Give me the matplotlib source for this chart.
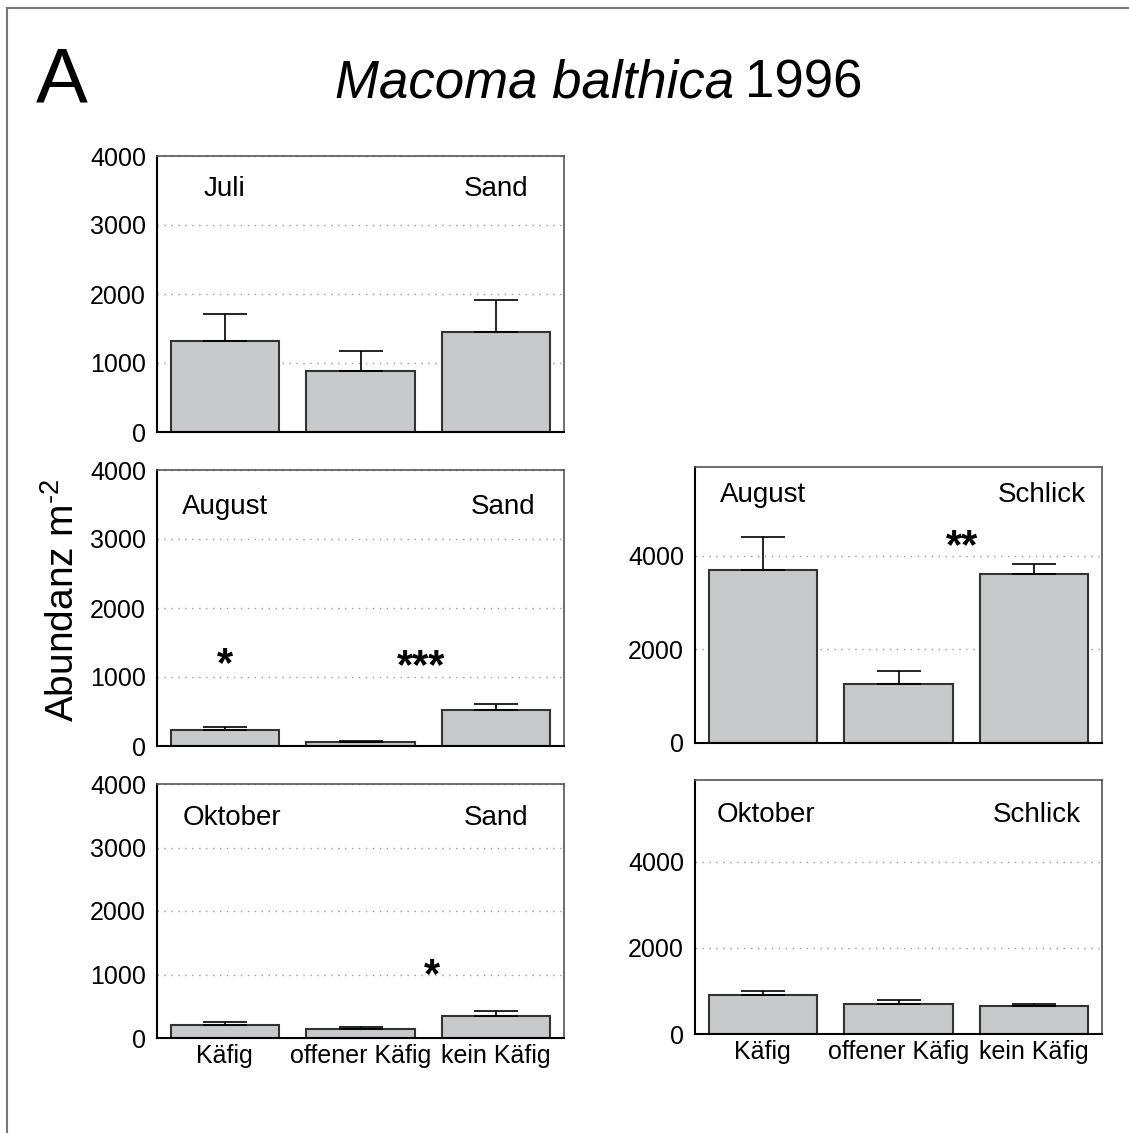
import numpy as np
import matplotlib
matplotlib.use('Agg')
import matplotlib.pyplot as plt
from matplotlib.lines import Line2D

plt.rcParams['font.family'] = ['Liberation Sans', 'DejaVu Sans']
plt.rcParams['mathtext.fontset'] = 'custom'
plt.rcParams['mathtext.rm'] = 'Liberation Sans'

# treatment categories (x axis)
categories = ['Käfig', 'offener Käfig', 'kein Käfig']

# mean abundance per m^2 and standard error
juli_sand = [1316, 882, 1455]
juli_sand_se = [399, 289, 463]
aug_sand = [227, 54, 517]
aug_sand_se = [44, 14, 96]
okt_sand = [205, 146, 342]
okt_sand_se = [42, 32, 83]
aug_schlick = [3701, 1268, 3607]
aug_schlick_se = [705, 269, 229]
okt_schlick = [904, 686, 640]
okt_schlick_se = [99, 102, 55]

W, H = 1129, 1133
fig = plt.figure(figsize=(W / 100, H / 100), dpi=100)

BAR = '#c8c9cb'
EDGE = '#333333'


def px_axes(x0, y0, x1, y1):
    # pixel box (top-left origin) -> figure fraction axes
    return fig.add_axes([x0 / W, 1 - y1 / H, (x1 - x0) / W, (y1 - y0) / H])


def panel(ax, vals, se, month, habitat, ymax, ticks, lab_y, hab_x=2.0,
          mon_x=0.0, xlabels=False):
    x = np.arange(len(vals))
    ax.set_xlim(-0.5, 2.5)
    ax.set_ylim(0, ymax)
    for t in ticks[1:]:
        ax.axhline(t, color='#999999', lw=1, ls=(0, (1, 4)), zorder=0)
    ax.bar(x, vals, width=0.8, color=BAR, edgecolor=EDGE, lw=1.5, zorder=2)
    ax.errorbar(x, vals, yerr=[np.zeros(len(se)), se], fmt='none',
                ecolor='black', elinewidth=1.2, capsize=16, capthick=1.2,
                zorder=3)
    ax.set_yticks(ticks)
    ax.set_yticklabels([str(t) for t in ticks], fontsize=18)
    ax.tick_params(axis='both', length=0, pad=8)
    ax.set_xticks(x)
    if xlabels:
        ax.set_xticklabels(categories, fontsize=18)
        ax.tick_params(axis='x', pad=4)
    else:
        ax.set_xticklabels([])
    for s in ['left', 'bottom']:
        ax.spines[s].set_color('black')
        ax.spines[s].set_linewidth(1.5)
    for s in ['top', 'right']:
        ax.spines[s].set_color('#555555')
        ax.spines[s].set_linewidth(1.2)
    tr = ax.get_xaxis_transform()
    ax.text(mon_x, lab_y, month, transform=tr, ha='center', va='center',
            fontsize=20)
    ax.text(hab_x, lab_y, habitat, transform=tr, ha='center', va='center',
            fontsize=20)


def star(ax, x, y, s):
    ax.text(x, y, s, ha='center', va='center', fontsize=30, fontweight='bold')


sand_ticks = [0, 1000, 2000, 3000, 4000]
schlick_ticks = [0, 2000, 4000]

ax1 = px_axes(157, 156, 564, 432)
panel(ax1, juli_sand, juli_sand_se, 'Juli', 'Sand', 4000, sand_ticks, 0.88)

ax2 = px_axes(157, 470, 564, 746)
panel(ax2, aug_sand, aug_sand_se, 'August', 'Sand', 4000, sand_ticks, 0.867,
      hab_x=2.05)
star(ax2, 0, 1170, '*')
star(ax2, 1.45, 1140, '***')

ax3 = px_axes(157, 784, 564, 1038)
panel(ax3, okt_sand, okt_sand_se, 'Oktober', 'Sand', 4000, sand_ticks, 0.866,
      mon_x=0.05, xlabels=True)
star(ax3, 1.53, 970, '*')

ax4 = px_axes(695, 467, 1102, 743)
panel(ax4, aug_schlick, aug_schlick_se, 'August', 'Schlick', 5900,
      schlick_ticks, 0.899, hab_x=2.06)
star(ax4, 1.47, 4190, '**')

ax5 = px_axes(695, 780, 1102, 1034)
panel(ax5, okt_schlick, okt_schlick_se, 'Oktober', 'Schlick', 5900,
      schlick_ticks, 0.862, hab_x=2.02, mon_x=0.02, xlabels=True)

# headings
fig.text(62 / W, 1 - 103 / H, 'A', fontsize=56, ha='center', va='baseline')
fig.text(734 / W, 1 - 97 / H, 'Macoma balthica', fontsize=38, style='italic',
         ha='right', va='baseline')
fig.text(745 / W, 1 - 97 / H, '1996', fontsize=38, ha='left', va='baseline')
fig.text(63 / W, 1 - 600 / H, 'Abundanz m$^{\\text{-2}}$', fontsize=28,
         rotation=90, ha='center', va='center')

# outer frame (only left and top edges visible)
fig.add_artist(Line2D([7 / W, 7 / W], [0, 1 - 8 / H], color='#777777', lw=1.5))
fig.add_artist(Line2D([7 / W, 1], [1 - 8 / H, 1 - 8 / H], color='#777777',
                      lw=1.5))

fig.savefig('out.png', dpi=100)
